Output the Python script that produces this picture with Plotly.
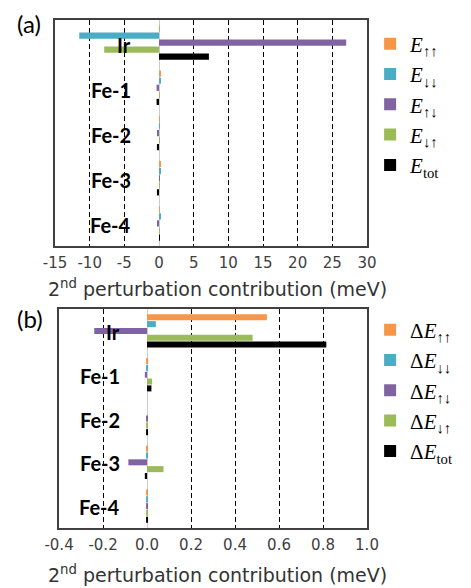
import plotly.graph_objects as go

categories = ["Ir", "Fe-1", "Fe-2", "Fe-3", "Fe-4"]

# Panel (a): 2nd perturbation contributions (meV)
a_uu = [0.05, 0.15, 0.05, 0.15, 0.05]
a_dd = [-11.5, 0.15, 0.05, 0.15, 0.25]
a_ud = [27.0, -0.35, -0.2, 0.05, -0.2]
a_du = [-7.9, 0.05, 0.1, 0.05, 0.05]
a_tot = [7.2, -0.35, -0.3, -0.3, 0.05]

# Panel (b): differences (meV)
b_uu = [0.545, 0.005, 0.0, 0.002, 0.004]
b_dd = [0.04, 0.005, 0.0, 0.002, 0.004]
b_ud = [-0.24, -0.01, 0.004, -0.085, 0.003]
b_du = [0.48, 0.023, 0.001, 0.075, 0.001]
b_tot = [0.815, 0.02, 0.002, -0.01, 0.004]

colors = ["#F79646", "#4BACC6", "#8064A2", "#9BBB59", "#000000"]
a_names = ["<i>E</i><sub>↑↑</sub>", "<i>E</i><sub>↓↓</sub>", "<i>E</i><sub>↑↓</sub>",
           "<i>E</i><sub>↓↑</sub>", "<i>E</i><sub>tot</sub>"]
b_names = ["Δ<i>E</i><sub>↑↑</sub>", "Δ<i>E</i><sub>↓↓</sub>", "Δ<i>E</i><sub>↑↓</sub>",
           "Δ<i>E</i><sub>↓↑</sub>", "Δ<i>E</i><sub>tot</sub>"]

a_ticks = [-15, -10, -5, 0, 5, 10, 15, 20, 25, 30]
b_ticks = [-0.4, -0.2, 0.0, 0.2, 0.4, 0.6, 0.8, 1.0]

fig = go.Figure()
for vals, c, n in zip([a_uu, a_dd, a_ud, a_du, a_tot], colors, a_names):
    fig.add_trace(go.Bar(x=vals, y=categories, orientation="h", marker_color=c,
                         marker_line_width=0, name=n, xaxis="x", yaxis="y",
                         legend="legend"))
for vals, c, n in zip([b_uu, b_dd, b_ud, b_du, b_tot], colors, b_names):
    fig.add_trace(go.Bar(x=vals, y=categories, orientation="h", marker_color=c,
                         marker_line_width=0, name=n, xaxis="x2", yaxis="y2",
                         legend="legend2"))

tickfont = dict(family="DejaVu Sans", size=15, color="#404040")
titlefont = dict(family="DejaVu Sans", size=19, color="#333")
xcommon = dict(showline=True, mirror=True, linecolor="#404040", linewidth=1.5,
               showgrid=True, gridcolor="#000000", gridwidth=1.2, griddash="5px,3px",
               zeroline=True, zerolinecolor="#cccccc", zerolinewidth=1.2,
               ticks="", tickfont=tickfont, ticklabelstandoff=2)
ycommon = dict(showline=True, mirror=True, linecolor="#404040", linewidth=1.5,
               showgrid=False, zeroline=False, showticklabels=False, ticks="",
               autorange="reversed", type="category")

title_text = "2<sup>nd</sup> perturbation contribution (meV)"

# page body has an 8px margin; the figure is sized to fill the remaining window
W, H = 463, 580
L, T, R, B = 47, 10, 104, 60
OFF = 8

fig.update_layout(
    width=W, height=H,
    margin=dict(l=L, r=R, t=T, b=B),
    paper_bgcolor="white", plot_bgcolor="white",
    barmode="group", bargap=0.22, bargroupgap=0.12,
    showlegend=True,
    xaxis=dict(xcommon, domain=[0, 1], anchor="y", range=[-15, 30],
               tickvals=a_ticks, ticktext=[str(t) for t in a_ticks]),
    yaxis=dict(ycommon, domain=[0.555, 1], anchor="x"),
    xaxis2=dict(xcommon, domain=[0.013, 1], anchor="y2", range=[-0.4, 1.0],
                tickvals=b_ticks, ticktext=[f"{t:.1f}" for t in b_ticks]),
    yaxis2=dict(ycommon, domain=[0, 0.431], anchor="x2"),
    legend=dict(x=1.01, xanchor="left", y=0.993, yanchor="top",
                font=dict(family="Liberation Serif", size=21, color="#000"),
                bgcolor="rgba(0,0,0,0)", itemwidth=30, tracegroupgap=0),
    legend2=dict(x=1.01, xanchor="left", y=0.43, yanchor="top",
                 font=dict(family="Liberation Serif", size=21, color="#000"),
                 bgcolor="rgba(0,0,0,0)", itemwidth=30, tracegroupgap=0),
)

pw, ph = W - L - R, H - T - B


def px2paper(px, py):
    return (px - OFF - L) / pw, 1 - (py - OFF - T) / ph


annotations = []
for cat in categories:
    annotations.append(dict(text=f"<b>{cat}</b>", x=0.25, xref="x domain", y=cat, yref="y",
                            xanchor="right", yanchor="middle", showarrow=False, yshift=-2,
                            font=dict(family="Lato", size=20, color="#000")))
    annotations.append(dict(text=f"<b>{cat}</b>", x=0.205, xref="x2 domain", y=cat, yref="y2",
                            xanchor="right", yanchor="middle", showarrow=False, yshift=-1,
                            font=dict(family="Lato", size=20, color="#000")))
for lab, px, py in [("(a)", 15, 22), ("(b)", 15, 318)]:
    x, y = px2paper(px, py)
    annotations.append(dict(text=lab, x=x, y=y, xref="paper", yref="paper", showarrow=False,
                            xanchor="left", yanchor="middle",
                            font=dict(family="Lato", size=24, color="#000")))
for px, py in [(217, 287), (217, 574)]:
    x, y = px2paper(px, py)
    annotations.append(dict(text=title_text, x=x, y=y, xref="paper", yref="paper",
                            showarrow=False, xanchor="center", yanchor="middle",
                            font=titlefont))
fig.update_layout(annotations=annotations)

fig.write_html("out.html")
